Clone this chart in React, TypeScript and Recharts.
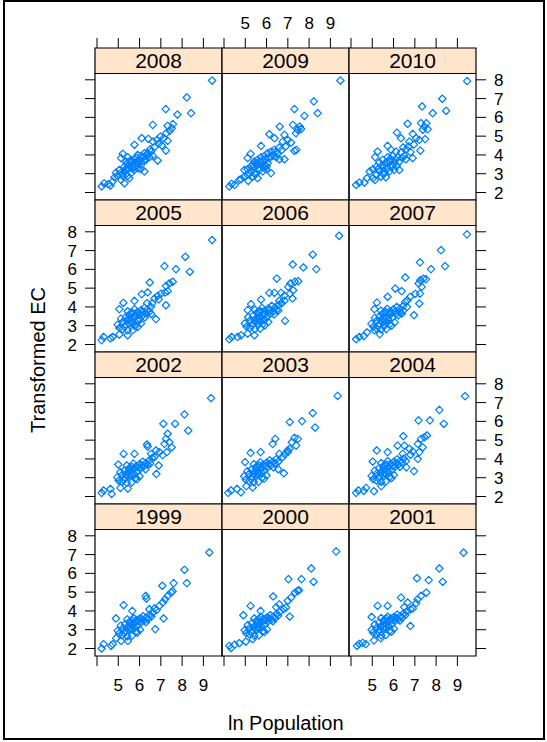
import React from 'react';
import { ScatterChart, Scatter, XAxis, YAxis, ReferenceArea } from 'recharts';

type P = [number, number];

const d2008: P[] = [[9.41,7.96],[8.22,7.06],[7.23,6.44],[7.78,6.15],[8.42,6.22],[6.62,5.60],[7.32,5.55],[7.57,5.64],[7.51,5.42],[7.42,5.28],[7.26,5.16],[6.10,4.89],[6.41,4.86],[5.76,4.54],[6.63,4.71],[6.82,4.80],[6.98,4.98],[7.13,4.89],[7.32,4.75],[7.24,4.23],[6.85,3.70],[6.54,4.18],[6.38,4.09],[6.23,4.09],[6.07,3.95],[5.91,4.00],[5.21,4.06],[5.13,3.83],[5.44,3.88],[5.60,3.74],[5.76,3.77],[5.36,3.65],[5.52,3.47],[5.68,3.56],[5.83,3.60],[5.99,3.65],[6.15,3.88],[6.30,3.74],[6.46,3.88],[6.62,3.95],[5.29,3.38],[5.44,3.24],[5.05,3.20],[5.13,3.06],[5.29,3.12],[5.76,3.35],[5.91,3.29],[6.07,3.47],[6.23,3.12],[5.60,3.03],[5.44,2.88],[5.52,2.76],[5.21,2.88],[4.97,2.88],[4.82,2.81],[4.89,3.06],[5.13,2.67],[4.74,2.58],[4.53,2.44],[4.34,2.49],[4.22,2.32],[4.63,2.37],[5.29,2.49],[6.00,3.75],[6.20,3.70],[6.50,4.30],[6.70,4.42],[6.90,4.60],[7.05,4.50],[5.70,3.40],[5.95,3.50],[5.55,3.62],[5.65,3.68],[5.85,3.85],[6.12,3.80],[5.40,3.55],[5.62,3.30],[5.35,3.25],[6.35,3.95],[6.05,3.25],[5.75,3.20],[5.18,2.98]];
const d2009: P[] = [[9.47,7.96],[8.22,6.85],[7.31,6.44],[7.78,6.08],[8.40,6.22],[6.62,5.51],[7.24,5.60],[7.56,5.51],[7.46,5.34],[7.38,5.16],[7.62,5.38],[6.13,5.10],[6.37,4.89],[5.74,4.48],[6.84,5.07],[6.99,4.80],[7.15,4.66],[6.76,4.71],[7.31,4.22],[7.40,4.27],[6.84,3.77],[5.25,4.06],[5.11,3.83],[6.05,4.09],[6.21,4.18],[6.37,4.27],[6.52,4.09],[5.90,3.95],[5.74,3.88],[5.58,3.74],[5.43,3.65],[6.13,3.83],[6.29,3.95],[6.45,3.88],[6.60,3.77],[5.27,3.38],[5.43,3.38],[5.58,3.47],[5.74,3.56],[5.90,3.47],[6.05,3.56],[4.96,3.20],[5.11,3.24],[5.27,3.12],[5.43,3.03],[5.66,3.20],[5.82,3.12],[5.98,3.24],[6.21,3.03],[5.11,2.94],[5.35,2.85],[5.58,2.76],[4.96,2.85],[4.80,2.71],[4.25,2.32],[4.36,2.46],[4.72,2.67],[5.14,2.62],[4.50,2.40],[6.60,4.40],[6.90,4.45],[5.80,3.70],[6.00,3.40],[5.50,3.55],[5.66,3.64],[5.95,3.78],[6.18,3.92],[5.35,3.50],[5.62,3.30],[5.86,3.33],[6.42,4.15],[6.70,4.25],[5.20,3.02],[5.48,2.95]];
const d2010: P[] = [[9.46,7.93],[8.29,6.99],[7.34,6.58],[7.84,6.22],[8.47,6.35],[6.66,5.66],[7.29,5.69],[7.54,5.69],[7.45,5.51],[7.37,5.34],[7.60,5.37],[6.16,5.19],[6.35,4.89],[5.72,4.48],[6.90,5.12],[7.06,4.89],[7.21,4.80],[7.48,4.84],[6.74,4.71],[7.26,4.23],[6.90,3.83],[5.25,4.18],[5.13,3.88],[5.88,4.27],[6.11,4.18],[6.35,4.13],[6.51,3.95],[6.19,3.88],[5.96,3.95],[5.72,3.88],[5.49,3.74],[5.33,3.60],[5.80,3.65],[6.03,3.56],[6.27,3.65],[6.58,3.77],[5.57,3.38],[5.72,3.29],[5.96,3.38],[5.03,3.24],[5.19,3.38],[5.35,3.12],[5.58,3.03],[5.80,3.12],[6.03,3.20],[6.27,3.20],[5.19,2.94],[5.41,2.85],[5.64,2.81],[5.03,2.76],[4.88,3.12],[4.24,2.40],[4.39,2.53],[4.75,2.76],[5.13,2.67],[4.63,2.53],[6.70,4.45],[6.95,4.55],[6.60,4.30],[6.45,4.40],[5.60,3.55],[5.85,3.80],[6.10,3.75],[6.40,3.85],[5.45,3.45],[5.68,3.62],[5.90,3.48],[6.15,3.42],[5.28,3.25],[6.80,4.15],[5.50,3.00]];

const d2005: P[] = [[9.41,7.56],[8.15,6.67],[7.17,6.17],[7.71,6.01],[8.36,5.87],[6.48,5.30],[7.56,5.34],[7.40,5.25],[7.24,5.12],[7.32,4.84],[7.20,4.77],[6.10,4.68],[6.38,4.77],[5.76,4.32],[5.24,4.22],[5.05,3.88],[6.85,4.59],[6.70,4.45],[7.01,4.71],[7.24,4.09],[6.77,3.35],[5.44,3.77],[5.60,3.65],[5.76,3.88],[5.91,3.74],[6.07,3.83],[6.23,3.95],[6.38,3.88],[6.54,4.00],[5.36,3.47],[5.52,3.35],[5.68,3.42],[5.83,3.52],[5.99,3.38],[6.15,3.56],[6.30,3.65],[6.46,3.74],[5.21,3.20],[5.36,3.06],[5.52,3.12],[5.68,3.17],[5.83,3.03],[6.07,3.12],[5.05,2.88],[5.21,2.81],[5.44,2.76],[5.68,2.76],[5.91,2.94],[4.97,3.06],[5.13,3.38],[4.22,2.23],[4.31,2.40],[4.63,2.32],[4.74,2.40],[5.05,2.53],[5.44,2.49],[6.60,4.20],[6.90,4.40],[6.35,4.20],[6.00,3.60],[5.50,3.58],[5.65,3.70],[5.85,3.65],[6.12,3.72],[5.40,3.30],[5.62,3.25],[5.95,3.25],[6.25,3.45],[6.55,3.62],[5.30,2.95],[5.75,3.00]];
const d2006: P[] = [[9.41,7.79],[8.17,6.79],[7.23,6.26],[7.73,6.10],[8.34,6.01],[6.48,5.51],[7.12,5.25],[7.33,5.34],[7.49,5.37],[7.02,5.07],[7.25,4.89],[7.10,4.71],[7.22,4.45],[6.13,4.75],[6.37,4.75],[5.74,4.39],[5.27,4.15],[5.11,3.83],[6.87,3.26],[6.68,4.75],[6.84,4.60],[6.60,4.33],[6.84,4.33],[6.70,4.20],[5.45,3.85],[5.62,3.75],[5.78,3.95],[5.93,3.82],[6.08,3.92],[6.24,4.05],[6.40,3.97],[6.55,4.10],[5.38,3.55],[5.53,3.42],[5.70,3.50],[5.85,3.62],[6.00,3.45],[6.17,3.65],[6.32,3.75],[6.48,3.85],[5.22,3.28],[5.37,3.12],[5.53,3.20],[5.70,3.25],[5.85,3.10],[6.08,3.20],[5.06,2.95],[5.22,2.88],[5.45,2.82],[5.70,2.84],[5.92,3.02],[4.98,3.12],[5.14,3.45],[4.25,2.28],[4.36,2.40],[4.64,2.40],[4.80,2.49],[5.11,2.58],[5.43,2.49],[6.70,4.20],[5.55,3.68],[5.72,3.78],[5.95,3.62],[6.15,3.85],[6.35,3.60],[5.45,3.30],[5.65,3.35],[5.90,3.30],[6.55,3.80],[5.30,3.00],[5.60,3.05]];
const d2007: P[] = [[9.45,7.86],[8.23,7.02],[7.24,6.37],[7.76,6.01],[8.42,6.17],[6.55,5.57],[7.26,5.42],[7.40,5.51],[7.52,5.48],[7.18,5.25],[7.32,5.07],[7.24,4.71],[7.21,4.18],[6.08,4.98],[6.38,4.84],[5.72,4.54],[5.22,4.23],[5.10,3.88],[6.96,3.56],[7.02,4.70],[6.78,4.54],[6.55,4.27],[6.63,4.00],[5.40,3.80],[5.55,3.70],[5.70,3.90],[5.85,3.78],[6.00,3.88],[6.15,4.00],[6.30,3.92],[6.45,4.05],[5.35,3.52],[5.50,3.40],[5.65,3.48],[5.80,3.60],[5.95,3.45],[6.12,3.62],[6.28,3.72],[6.45,3.80],[5.20,3.25],[5.35,3.10],[5.50,3.18],[5.66,3.22],[5.82,3.08],[6.05,3.18],[5.05,2.95],[5.20,2.86],[5.42,2.80],[5.66,2.82],[5.90,3.00],[4.96,3.10],[5.12,3.42],[4.24,2.28],[4.39,2.40],[4.75,2.64],[5.10,2.76],[4.60,2.45],[5.35,2.55],[5.48,3.62],[5.62,3.75],[5.90,3.66],[6.08,3.75],[6.22,3.55],[5.42,3.28],[5.58,3.32],[5.75,3.35],[6.38,3.65],[5.28,3.00],[5.55,2.98],[6.65,4.35]];

const d2002: P[] = [[9.36,7.24],[8.11,6.37],[7.12,5.87],[7.67,5.87],[8.29,5.51],[6.35,4.77],[7.32,5.34],[7.24,5.07],[7.40,4.89],[7.17,4.80],[7.51,4.62],[7.28,4.36],[5.25,4.27],[5.76,4.27],[5.00,3.70],[6.79,3.20],[6.38,4.66],[6.77,4.45],[6.93,4.36],[6.54,4.27],[7.08,4.20],[5.40,3.65],[5.55,3.55],[5.70,3.75],[5.85,3.62],[6.00,3.72],[6.15,3.85],[6.30,3.78],[6.45,3.92],[6.60,4.05],[5.30,3.40],[5.45,3.28],[5.60,3.35],[5.75,3.48],[5.90,3.32],[6.05,3.50],[6.20,3.60],[6.38,3.70],[5.18,3.15],[5.32,3.00],[5.48,3.08],[5.62,3.12],[5.80,2.98],[6.00,3.08],[5.02,2.85],[5.18,2.78],[5.40,2.72],[5.62,2.74],[5.88,2.92],[4.95,3.02],[5.10,3.30],[4.22,2.19],[4.31,2.32],[4.63,2.40],[4.69,2.14],[5.10,2.46],[5.45,2.42],[6.90,3.65],[5.50,3.45],[5.65,3.58],[5.92,3.55],[6.12,3.65],[6.28,3.45],[5.38,3.15],[5.55,3.20],[5.72,3.22],[6.50,3.75],[5.25,2.88],[6.70,4.10]];
const d2003: P[] = [[9.34,7.36],[8.17,6.44],[7.09,5.96],[7.67,6.01],[8.28,5.67],[6.41,5.07],[7.31,5.12],[7.47,5.07],[7.19,4.89],[7.39,4.71],[7.08,4.54],[7.00,4.36],[5.25,4.32],[5.72,4.36],[4.99,3.83],[6.81,3.24],[6.29,4.80],[6.60,4.27],[6.99,4.45],[6.75,4.10],[5.40,3.72],[5.55,3.62],[5.70,3.82],[5.85,3.70],[6.00,3.80],[6.15,3.92],[6.30,3.85],[6.45,3.98],[5.30,3.45],[5.45,3.32],[5.60,3.40],[5.75,3.52],[5.90,3.38],[6.05,3.55],[6.20,3.65],[6.40,3.75],[5.18,3.20],[5.32,3.05],[5.48,3.12],[5.62,3.18],[5.80,3.02],[6.00,3.12],[5.02,2.90],[5.18,2.82],[5.40,2.76],[5.62,2.78],[5.88,2.95],[4.95,3.08],[5.10,3.35],[4.20,2.19],[4.33,2.32],[4.61,2.40],[4.80,2.22],[5.35,2.48],[5.05,2.55],[6.55,3.45],[5.50,3.52],[5.66,3.66],[5.95,3.60],[6.12,3.72],[6.32,3.55],[5.40,3.20],[5.58,3.25],[5.78,3.25],[6.55,3.85],[5.28,2.92],[6.85,4.25]];
const d2004: P[] = [[9.36,7.34],[8.15,6.61],[7.17,6.05],[7.71,6.05],[8.36,5.87],[6.46,5.21],[7.29,5.07],[7.45,5.16],[7.57,5.25],[7.14,4.80],[7.37,4.62],[7.21,4.36],[7.14,4.00],[5.21,4.45],[5.72,4.36],[5.02,3.86],[6.96,3.35],[6.19,4.71],[6.51,4.71],[6.74,4.54],[6.90,4.40],[6.43,4.27],[5.42,3.78],[5.57,3.68],[5.72,3.88],[5.87,3.75],[6.02,3.85],[6.17,3.98],[6.32,3.90],[6.48,4.02],[5.32,3.50],[5.47,3.38],[5.62,3.45],[5.77,3.58],[5.92,3.42],[6.07,3.60],[6.22,3.70],[6.40,3.80],[5.20,3.22],[5.34,3.08],[5.50,3.15],[5.64,3.20],[5.82,3.05],[6.02,3.15],[5.04,2.92],[5.20,2.85],[5.42,2.78],[5.64,2.80],[5.90,2.98],[4.97,3.10],[5.12,3.38],[4.24,2.19],[4.35,2.32],[4.71,2.46],[5.08,2.28],[5.42,2.55],[4.60,2.30],[6.60,3.55],[5.52,3.56],[5.68,3.70],[5.96,3.62],[6.12,3.76],[6.30,3.58],[5.40,3.25],[5.58,3.28],[5.76,3.30],[6.58,3.88],[5.30,2.95],[6.80,4.22]];

const d1999: P[] = [[9.28,7.11],[8.11,6.19],[7.07,5.34],[7.60,5.48],[8.22,5.48],[6.29,4.80],[5.25,4.31],[5.66,4.00],[4.89,3.60],[6.74,3.03],[7.13,3.60],[7.48,4.98],[7.55,5.05],[7.32,4.80],[7.20,4.62],[7.09,4.45],[6.93,4.27],[6.32,4.66],[6.70,4.13],[6.46,4.09],[5.42,3.55],[5.57,3.45],[5.72,3.62],[5.87,3.52],[6.02,3.60],[6.17,3.72],[6.32,3.65],[6.48,3.80],[6.62,3.90],[5.32,3.30],[5.47,3.18],[5.62,3.25],[5.77,3.38],[5.92,3.22],[6.07,3.40],[6.22,3.48],[6.40,3.58],[5.20,3.05],[5.34,2.92],[5.50,3.00],[5.64,3.04],[5.82,2.90],[6.02,3.00],[5.04,2.80],[5.20,2.72],[5.42,2.65],[5.64,2.68],[5.90,2.85],[4.97,2.95],[5.12,3.22],[4.22,2.00],[4.31,2.23],[4.66,2.14],[4.74,2.23],[5.13,2.40],[5.45,2.40],[4.90,2.55],[5.52,3.40],[5.68,3.50],[5.95,3.45],[6.12,3.55],[6.30,3.40],[5.40,3.10],[5.58,3.12],[5.75,3.15],[6.55,3.70],[5.28,2.82],[6.80,4.05]];
const d2000: P[] = [[9.27,7.17],[8.10,6.26],[7.03,5.69],[7.64,5.69],[8.21,5.55],[6.31,4.77],[5.25,4.27],[4.91,3.77],[5.72,4.00],[7.09,3.70],[7.46,5.07],[7.52,5.10],[7.34,4.98],[7.15,4.71],[7.00,4.54],[6.91,4.18],[6.60,4.35],[6.45,4.20],[5.42,3.60],[5.57,3.50],[5.72,3.68],[5.87,3.58],[6.02,3.66],[6.17,3.78],[6.32,3.70],[6.48,3.85],[6.62,3.95],[5.32,3.35],[5.47,3.22],[5.62,3.30],[5.77,3.42],[5.92,3.28],[6.07,3.45],[6.22,3.52],[6.40,3.62],[5.20,3.08],[5.34,2.95],[5.50,3.02],[5.64,3.08],[5.82,2.92],[6.02,3.02],[5.04,2.82],[5.20,2.75],[5.42,2.68],[5.64,2.70],[5.90,2.88],[4.97,2.98],[5.12,3.25],[4.25,2.14],[4.33,2.02],[4.72,2.28],[5.03,2.37],[4.50,2.20],[5.35,2.50],[5.52,3.45],[5.68,3.55],[5.95,3.50],[6.12,3.60],[6.30,3.45],[5.40,3.14],[5.58,3.16],[5.76,3.18],[6.55,3.75],[5.28,2.85],[6.80,4.10]];
const d2001: P[] = [[9.29,7.10],[8.15,6.26],[7.10,5.74],[7.65,5.64],[8.31,5.55],[6.35,4.71],[5.25,4.27],[5.72,4.27],[4.97,3.68],[6.79,3.20],[7.54,4.98],[7.29,4.80],[7.13,4.62],[7.06,4.41],[6.66,4.45],[6.90,4.13],[6.50,4.20],[5.42,3.62],[5.57,3.52],[5.72,3.70],[5.87,3.60],[6.02,3.68],[6.17,3.80],[6.32,3.72],[6.48,3.88],[6.62,3.98],[5.32,3.38],[5.47,3.25],[5.62,3.32],[5.77,3.45],[5.92,3.30],[6.07,3.48],[6.22,3.55],[6.40,3.65],[5.20,3.10],[5.34,2.98],[5.50,3.05],[5.64,3.10],[5.82,2.95],[6.02,3.05],[5.04,2.85],[5.20,2.78],[5.42,2.70],[5.64,2.72],[5.90,2.90],[4.97,3.00],[5.12,3.28],[4.28,2.14],[4.39,2.25],[4.70,2.23],[5.08,2.43],[4.55,2.30],[5.40,2.55],[5.52,3.48],[5.68,3.58],[5.95,3.52],[6.12,3.62],[6.30,3.48],[5.40,3.16],[5.58,3.18],[5.76,3.20],[6.55,3.78],[5.28,2.88],[6.80,4.08]];

const panelYears: string[][] = [
  ['2008', '2009', '2010'],
  ['2005', '2006', '2007'],
  ['2002', '2003', '2004'],
  ['1999', '2000', '2001'],
];
const panelData: P[][][] = [
  [d2008, d2009, d2010],
  [d2005, d2006, d2007],
  [d2002, d2003, d2004],
  [d1999, d2000, d2001],
];

const xTicks = [4, 5, 6, 7, 8, 9];
const xTickLabels = ['', '5', '6', '7', '8', '9'];
const yTicks = [2, 3, 4, 5, 6, 7, 8];
const xLabel = 'ln Population';
const yLabel = 'Transformed EC';

const FONT = '"Liberation Sans", Arial, Helvetica, sans-serif';
const COL_LEFT = [95.3, 222.3, 349.3];
const PANEL_W = 127;
const ROW_TOP = [48, 200, 352, 504];
const ROW_H = 152;
const X_DOMAIN: [number, number] = [3.906, 9.874];
const Y_BOTTOM = 1.6;
const Y_PANEL_TOP = 8.335;
const Y_TOP = 9.693;
const AX = 40;
const PAD = 12;

const Diamond = (props: any) => {
  const { cx, cy } = props;
  if (cx == null || cy == null) return <g />;
  const r = 3.7;
  return (
    <path
      d={`M${cx},${cy - r}L${cx + r},${cy}L${cx},${cy + r}L${cx - r},${cy}Z`}
      fill="none"
      stroke="#0080ff"
      strokeWidth={1.25}
      strokeLinejoin="round"
    />
  );
};

function Panel({ row, col }: { row: number; col: number }) {
  const year = panelYears[row][col];
  const data = panelData[row][col].map(([x, y]) => ({ x, y }));
  const showLeft = col === 0;
  const showRight = col === 2;
  const showTop = row === 0;
  const showBottom = row === 3;
  const left = COL_LEFT[col] - (showLeft ? AX : 0) - PAD;
  const top = ROW_TOP[row] - (showTop ? AX : 0) - PAD;
  const width = PANEL_W + (showLeft || showRight ? AX : 0) + 2 * PAD;
  const height = ROW_H + (showTop || showBottom ? AX : 0) + 2 * PAD;
  const xLab = (row === 0 && col === 1) || (row === 3 && col !== 1);
  const yLab = (col === 0 && row % 2 === 1) || (col === 2 && row % 2 === 0);
  const tickStyle = { fontSize: 17, fill: '#000', fontFamily: FONT };
  return (
    <div style={{ position: 'absolute', left, top, width, height }}>
      <ScatterChart width={width} height={height} margin={{ top: PAD, right: PAD, bottom: PAD, left: PAD }}>
        <XAxis
          type="number"
          dataKey="x"
          domain={X_DOMAIN}
          allowDataOverflow
          ticks={xTicks}
          interval={0}
          hide={!(showTop || showBottom)}
          orientation={showTop ? 'top' : 'bottom'}
          height={AX}
          axisLine={false}
          tickLine={{ stroke: '#000', strokeWidth: 1 }}
          tickSize={10}
          tickMargin={showTop ? 9 : 13}
          tick={tickStyle}
          tickFormatter={(v: number) => (xLab ? xTickLabels[xTicks.indexOf(v)] ?? '' : '')}
        />
        <YAxis
          type="number"
          dataKey="y"
          domain={[Y_BOTTOM, Y_TOP]}
          allowDataOverflow
          ticks={yTicks}
          interval={0}
          hide={col === 1}
          orientation={showLeft ? 'left' : 'right'}
          width={AX}
          axisLine={false}
          tickLine={{ stroke: '#000', strokeWidth: 1 }}
          tickSize={10}
          tickMargin={8}
          tick={tickStyle}
          tickFormatter={(v: number) => (yLab ? String(v) : '')}
        />
        <ReferenceArea
          y1={Y_PANEL_TOP}
          y2={Y_TOP}
          fill="#ffe5cc"
          fillOpacity={1}
          stroke="#000"
          strokeWidth={1.2}
          label={{ value: year, position: 'center', fontSize: 21, fill: '#000', fontFamily: FONT }}
        />
        <ReferenceArea
          y1={Y_BOTTOM}
          y2={Y_PANEL_TOP}
          fill="#ffffff"
          fillOpacity={0}
          stroke="#000"
          strokeWidth={1.2}
        />
        <Scatter data={data} shape={Diamond} isAnimationActive={false} />
      </ScatterChart>
    </div>
  );
}

export default function App() {
  const panels: React.ReactNode[] = [];
  for (let r = 0; r < 4; r++) {
    for (let c = 0; c < 3; c++) {
      panels.push(<Panel key={`${r}-${c}`} row={r} col={c} />);
    }
  }
  return (
    <div
      style={{
        position: 'absolute',
        left: 0,
        top: 0,
        width: 547,
        height: 742,
        background: '#fff',
        fontFamily: FONT,
      }}
    >
      <div
        style={{
          position: 'absolute',
          left: 3,
          top: 0,
          width: 542,
          height: 740,
          border: '2px solid #000',
          boxSizing: 'border-box',
        }}
      />
      {panels}
      <div
        style={{
          position: 'absolute',
          left: 285.8 - 100,
          top: 709,
          width: 200,
          textAlign: 'center',
          fontSize: 20,
          lineHeight: '28px',
          color: '#000',
        }}
      >
        {xLabel}
      </div>
      <div
        style={{
          position: 'absolute',
          left: 37.5 - 100,
          top: 360 - 14,
          width: 200,
          height: 28,
          textAlign: 'center',
          fontSize: 20,
          lineHeight: '28px',
          color: '#000',
          transform: 'rotate(-90deg)',
        }}
      >
        {yLabel}
      </div>
    </div>
  );
}
